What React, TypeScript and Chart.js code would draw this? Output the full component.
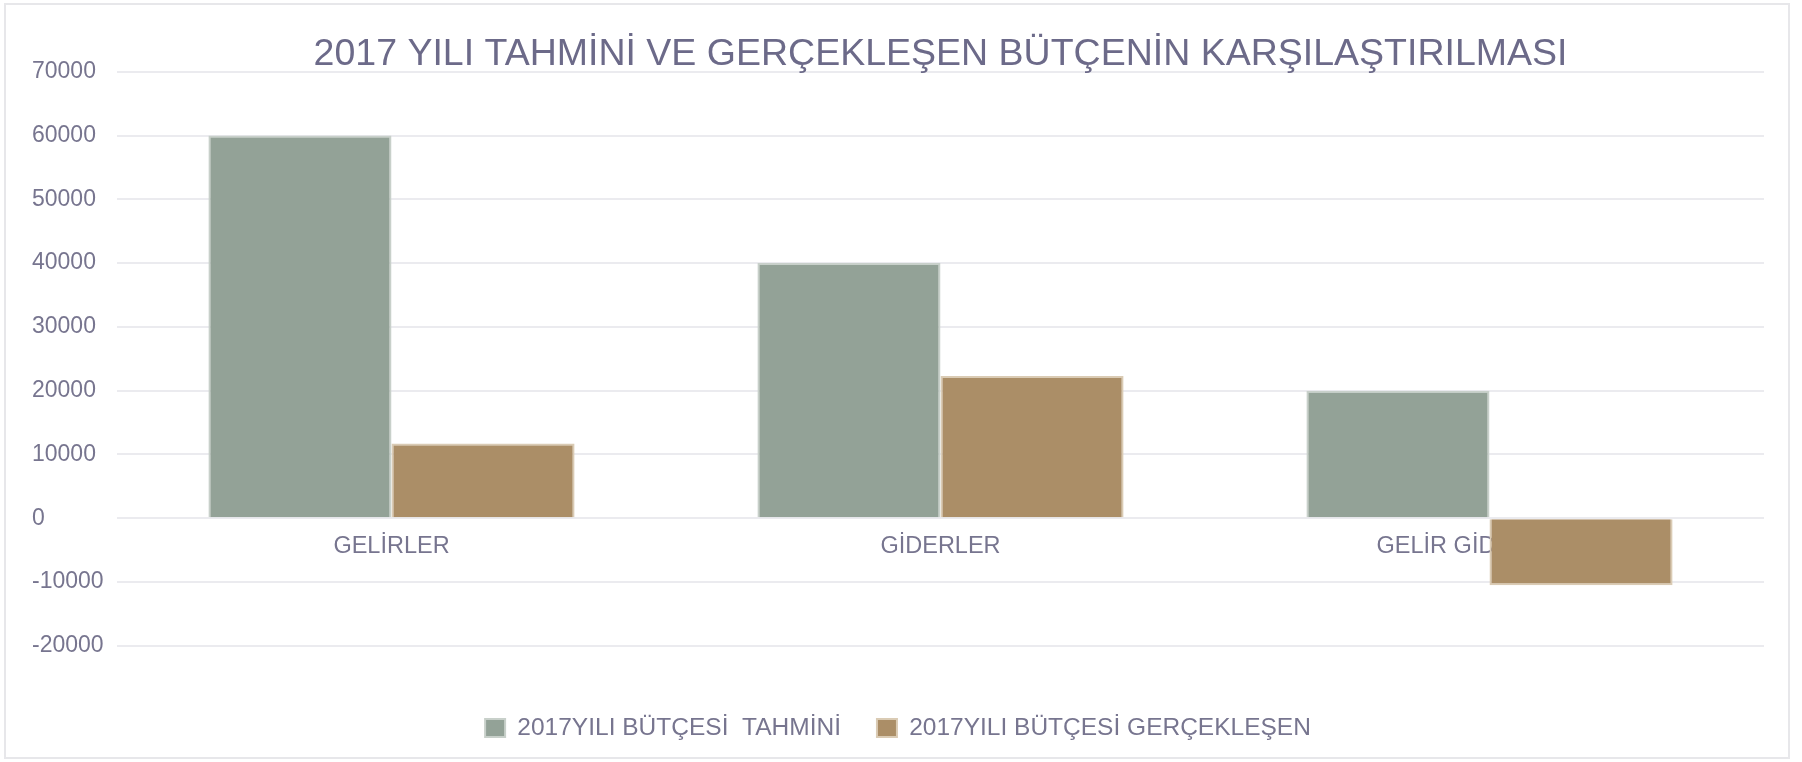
import React, { useEffect, useRef } from "react";
import { Chart, registerables } from "chart.js";

Chart.register(...registerables);

const categories = ["GELİRLER", "GİDERLER", "GELİR GİDER FARKI"];
const seriesNames = ["2017YILI BÜTÇESİ  TAHMİNİ", "2017YILI BÜTÇESİ GERÇEKLEŞEN"];
const tahminiValues = [60000, 40000, 20000];
const gerceklesenValues = [11700, 22300, -10500];
const yTicks = [70000, 60000, 50000, 40000, 30000, 20000, 10000, 0, -10000, -20000];
const titleText = "2017 YILI TAHMİNİ VE GERÇEKLEŞEN BÜTÇENİN KARŞILAŞTIRILMASI";

const FONT = "'Liberation Sans', Arial, sans-serif";
const TEXT_COLOR = "#77758f";

const borderPlugin = {
  id: "outerBorder",
  beforeDraw(chart: any) {
    const ctx = chart.ctx;
    ctx.save();
    ctx.strokeStyle = "#e7e7ea";
    ctx.lineWidth = 2;
    ctx.strokeRect(5, 4, 1784, 754);
    ctx.restore();
  },
};

export default function App() {
  const ref = useRef<HTMLCanvasElement | null>(null);

  useEffect(() => {
    if (!ref.current) return;
    const chart = new Chart(ref.current, {
      type: "bar",
      data: {
        labels: categories,
        datasets: [
          {
            label: seriesNames[0],
            data: tahminiValues,
            backgroundColor: "#93a297",
            borderColor: "#c8d0ca",
            borderWidth: 2,
          },
          {
            label: seriesNames[1],
            data: gerceklesenValues,
            backgroundColor: "#ab8e67",
            borderColor: "#dacbb4",
            borderWidth: 2,
          },
        ],
      },
      plugins: [borderPlugin],
      options: {
        responsive: false,
        animation: false,
        layout: { padding: { left: 32, right: 38, top: 0, bottom: 11.75 } },
        datasets: {
          bar: { categoryPercentage: 0.667, barPercentage: 1 },
        },
        plugins: {
          title: {
            display: true,
            text: titleText,
            fullSize: false,
            color: "#6c6a89",
            font: { family: FONT, size: 37.5, weight: "normal", lineHeight: 0.9 },
            padding: { top: 38, bottom: 0 },
          },
          legend: {
            display: true,
            position: "bottom",
            labels: {
              color: TEXT_COLOR,
              font: { family: FONT, size: 24.5 },
              boxWidth: 20,
              boxHeight: 18,
              padding: 36,
            },
          },
          tooltip: { enabled: false },
        },
        scales: {
          x: {
            type: "category",
            position: { y: 0 } as any,
            grid: { display: false },
            border: { display: false },
            ticks: {
              color: TEXT_COLOR,
              font: { family: FONT, size: 23.5 },
              padding: 6,
              maxRotation: 0,
              autoSkip: false,
            },
          },
          xPad: {
            type: "category",
            axis: "x",
            position: "bottom",
            grid: { display: false },
            border: { display: false },
            ticks: { display: false },
            afterFit: (s: any) => {
              s.height = 34;
            },
          } as any,
          y: {
            min: -20000,
            max: 70000,
            afterBuildTicks: (s: any) => {
              s.ticks = yTicks.map((v) => ({ value: v }));
            },
            afterFit: (s: any) => {
              s.width = 85;
            },
            grid: { color: "#ebebef", lineWidth: 2, drawTicks: false },
            border: { display: false },
            ticks: {
              color: TEXT_COLOR,
              font: { family: FONT, size: 23 },
              crossAlign: "far",
              callback: (v: any) => String(v),
            },
          },
        },
      },
    });
    return () => chart.destroy();
  }, []);

  return (
    <div style={{ position: "absolute", left: 0, top: 0, width: 1802, height: 762, background: "#fff" }}>
      <canvas ref={ref} width={1802} height={762} />
    </div>
  );
}
